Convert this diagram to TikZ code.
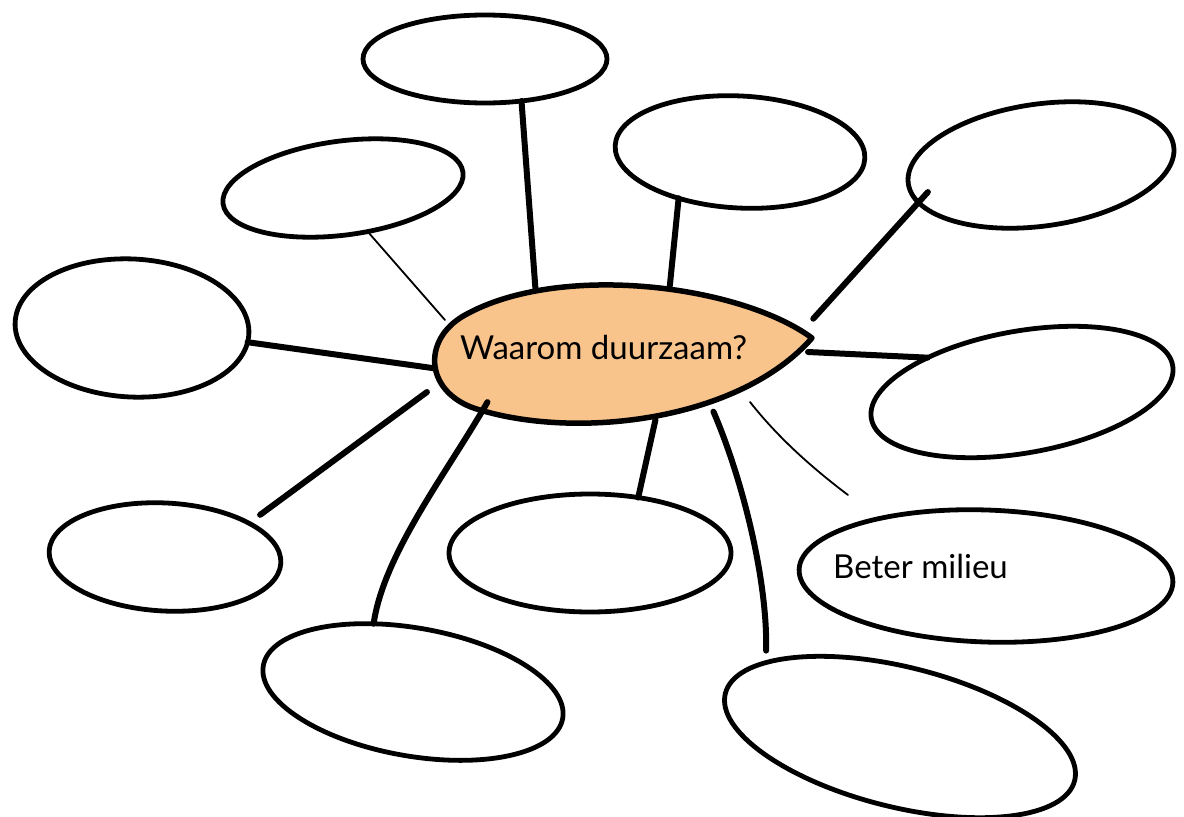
\documentclass[tikz,border=0pt]{standalone}
\usepackage{fontspec}
\setmainfont{Lato}
\usetikzlibrary{shapes.geometric}
\definecolor{lemon}{HTML}{F9C38C}
\tikzset{
  bubble/.style={ellipse, draw=black, line width=4.8pt, inner sep=0pt, outer sep=0pt},
  hub/.style={ellipse, draw=none, inner sep=0pt, outer sep=0pt, minimum width=380pt, minimum height=138pt},
  link/.style={line width=6pt, line cap=round},
  thinlink/.style={line width=1.8pt, line cap=round},
  lbl/.style={font=\fontsize{33pt}{36pt}\selectfont, anchor=base west, inner sep=0pt}
}
\begin{document}
\begin{tikzpicture}[x=1pt,y=-1pt]
\useasboundingbox (0,0) rectangle (1184,817);
% centre shape
\fill[lemon] (812,338) .. controls (740,285) and (560,262) .. (465,315)
  .. controls (420,340) and (425,395) .. (480,410)
  .. controls (580,440) and (740,420) .. (812,338) -- cycle;
\draw[line width=5.5pt, line join=round] (812,338) .. controls (740,285) and (560,262) .. (465,315)
  .. controls (420,340) and (425,395) .. (480,410)
  .. controls (580,440) and (740,420) .. (812,338) -- cycle;
\node[hub] (c) at (618,352) {};
\node[lbl] (ct) at (460,359) {Waarom duurzaam?};
% outer bubbles
\node[bubble, minimum width=244pt, minimum height=88pt] (b1) at (485,59) {};
\node[bubble, minimum width=250pt, minimum height=112pt, rotate=-3] (b2) at (740,152) {};
\node[bubble, minimum width=268pt, minimum height=122pt, rotate=8] (b3) at (1041,165) {};
\node[bubble, minimum width=242pt, minimum height=94pt, rotate=7.5] (b4) at (343,188) {};
\node[bubble, minimum width=234pt, minimum height=138pt, rotate=-3] (b5) at (132,328) {};
\node[bubble, minimum width=306pt, minimum height=122pt, rotate=10] (b6) at (1022,392) {};
\node[bubble, minimum width=232pt, minimum height=108pt, rotate=-3] (b7) at (165,557) {};
\node[bubble, minimum width=282pt, minimum height=118pt] (b8) at (590,553) {};
\node[bubble, minimum width=374pt, minimum height=132pt, rotate=-2] (b9) at (986,576) {};
\node[lbl] (t9) at (833,578) {Beter milieu};
\node[bubble, minimum width=304pt, minimum height=128pt, rotate=-10] (b10) at (413,692) {};
\node[bubble, minimum width=360pt, minimum height=140pt, rotate=-14] (b11) at (900,737) {};
% free ends of thin connectors
\coordinate (f4) at (445,320);
\coordinate (f9a) at (750,402);
\coordinate (f9b) at (848,495);
% connectors
\draw[link] (b1.-49) -- (c.143);
\draw[link] (b2.-140) -- (c.52);
\draw[link, shorten <=-14pt, shorten >=19pt] (b3.189) -- (c.6.5);
\draw[thinlink] (b4.-68) -- (f4);
\draw[link] (b5.-4) -- (c.185);
\draw[link] (b6.150) -- (c.0);
\draw[link, shorten <=14pt, shorten >=21pt] (b7.25) -- (c.189);
\draw[link] (b8.49) -- (c.-61);
\draw[thinlink] (f9a) .. controls (780,440) and (815,470) .. (f9b);
\draw[link] (c.-159) .. controls +(-40,70) and +(10,-70) .. (b10.130);
\draw[link, shorten >=12pt] (c.-32) .. controls +(30,70) and +(2,-80) .. (b11.165);
\end{tikzpicture}
\end{document}
